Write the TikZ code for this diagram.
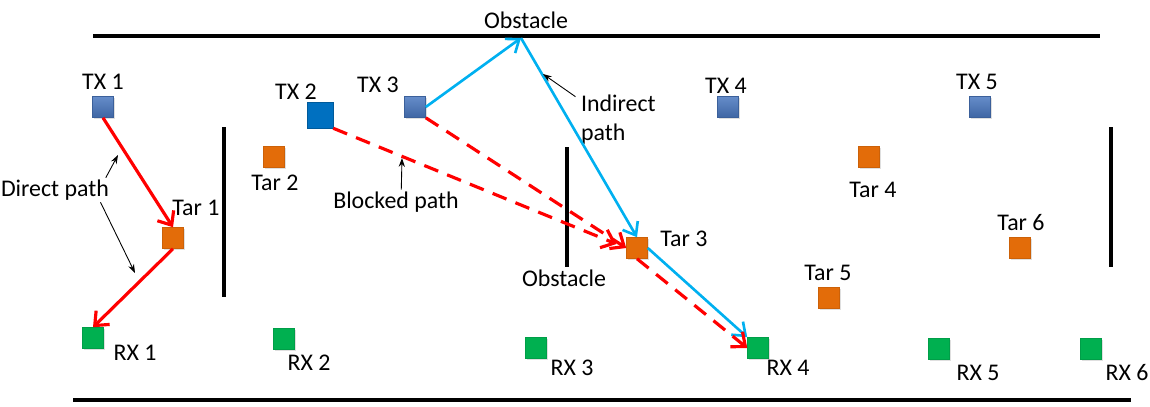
\documentclass[tikz,border=0pt]{standalone}
\usepackage{fontspec}
\setmainfont{Carlito}
\usetikzlibrary{positioning,arrows.meta,shadows}

\definecolor{txblue}{HTML}{4A78C0}
\definecolor{txdark}{HTML}{0070C0}
\definecolor{tarorange}{HTML}{E36C09}
\definecolor{rxgreen}{HTML}{00B050}
\definecolor{pathred}{HTML}{FF0000}
\definecolor{pathcyan}{HTML}{00B0F0}

\tikzset{
  dev/.style={minimum size=0.42cm, inner sep=0pt, line width=0.3pt,
    drop shadow={opacity=0.25, shadow xshift=0.8pt, shadow yshift=-0.8pt}},
  tx/.style={dev, draw=txblue!80!black, top color=txblue!85!white, bottom color=txblue!85!black},
  txbig/.style={dev, minimum size=0.52cm, draw=txdark!80!black, fill=txdark},
  tar/.style={dev, draw=tarorange!90!black, fill=tarorange},
  rx/.style={dev, draw=rxgreen!90!black, fill=rxgreen},
  lbl/.style={inner sep=1pt},
  wall/.style={line width=2.3pt},
  obst/.style={line width=1.8pt},
  redpath/.style={pathred, line width=1.8pt, -{Straight Barb[length=6.5pt,width=11pt,line width=1.8pt]}},
  dashpath/.style={redpath, dash pattern=on 8.5pt off 5.5pt},
  cyanpath/.style={pathcyan, line width=1.5pt, -{Straight Barb[length=6.5pt,width=10pt,line width=1.5pt]}},
  note/.style={black, line width=0.5pt, -{Stealth[length=5pt,width=3.5pt]}}
}

\begin{document}
\begin{tikzpicture}[x=0.02cm, y=-0.02cm, font=\fontsize{13.6}{15}\selectfont]
\useasboundingbox (0,0) rectangle (1150,406);
% Walls
\coordinate (wtl) at (93,36);
\coordinate (wtr) at (1100,36);
\coordinate (wbl) at (73,400);
\coordinate (wbr) at (1131,400);
\coordinate (o1t) at (224,127);
\coordinate (o1b) at (224,297);
\coordinate (o2t) at (567,147);
\coordinate (o2b) at (567,267);
\coordinate (o3t) at (1111,127);
\coordinate (o3b) at (1111,267);
\coordinate (refl) at (521,38);
\draw[wall] (wtl) -- (wtr);
\draw[wall] (wbl) -- (wbr);
\draw[obst] (o1t) -- (o1b);
\draw[obst] (o2t) -- (o2b);
\draw[obst] (o3t) -- (o3b);
% Nodes
\node[tx](tx1) at (103,107){};
\node[txbig](tx2) at (320,115){};
\node[tx](tx3) at (415,107){};
\node[tx](tx4) at (728,107){};
\node[tx](tx5) at (980,107){};
\node[tar](tar1) at (173,238){};
\node[tar](tar2) at (274,157){};
\node[tar](tar3) at (637,248){};
\node[tar](tar4) at (869,157){};
\node[tar](tar5) at (829,298){};
\node[tar](tar6) at (1020,248){};
\node[rx](rx1) at (93,338){};
\node[rx](rx2) at (284,339){};
\node[rx](rx3) at (536,348){};
\node[rx](rx4) at (758,348){};
\node[rx](rx5) at (939,349){};
\node[rx](rx6) at (1091,349){};
% Labels
\node[lbl](ltx1) at (103,82){TX 1};
\node[lbl](ltx2) at (296,92){TX 2};
\node[lbl](ltx3) at (378,85){TX 3};
\node[lbl](ltx4) at (726,86){TX 4};
\node[lbl](ltx5) at (977,82){TX 5};
\node[lbl](ltar1) at (196,208){Tar 1};
\node[lbl](ltar2) at (275,183){Tar 2};
\node[lbl](ltar3) at (684,239){Tar 3};
\node[lbl](ltar4) at (873,190){Tar 4};
\node[lbl](ltar5) at (828,273){Tar 5};
\node[lbl](ltar6) at (1021,223){Tar 6};
\node[lbl](lrx1) at (135,353){RX 1};
\node[lbl](lrx2) at (309,363){RX 2};
\node[lbl](lrx3) at (572,368){RX 3};
\node[lbl](lrx4) at (788,368){RX 4};
\node[lbl](lrx5) at (978,373){RX 5};
\node[lbl](lrx6) at (1127,373){RX 6};
\node[lbl](obsttop) at (526,20){Obstacle};
\node[lbl](obstmid) at (564,278){Obstacle};
\node[lbl](direct) at (55,190){Direct path};
\node[lbl](blocked) at (396,202){Blocked path};
\node[lbl, align=left, anchor=west, font=\fontsize{13.6}{16.5}\selectfont](indirect) at (579,120){Indirect\\path};
% Arcs
\draw[redpath] (tx1.south) -- (tar1.north);
\draw[redpath] (tar1.south) -- (rx1.north);
\draw[cyanpath] (tx3.east) -- (refl);
\draw[cyanpath] (refl) -- (tar3.north);
\draw[cyanpath] (tar3.east) -- (rx4.north west);
\draw[dashpath, shorten >=6pt] (tx2.south east) -- (tar3.west);
\draw[dashpath] (tx3.south east) -- (tar3.west);
\draw[dashpath] (tar3.south) -- (rx4.west);
% Notes
\coordinate (dn1) at (118,155);
\coordinate (dn2) at (135,273);
\coordinate (bn) at (402,158);
\coordinate (in) at (543,74);
\draw[note] ([xshift=-3pt]direct.north east) -- (dn1);
\draw[note] ([xshift=-6pt]direct.south east) -- (dn2);
\draw[note] ([xshift=3pt]blocked.north) -- (bn);
\draw[note] ([shift={(-2pt,-2pt)}]indirect.north west) -- (in);
\end{tikzpicture}
\end{document}
